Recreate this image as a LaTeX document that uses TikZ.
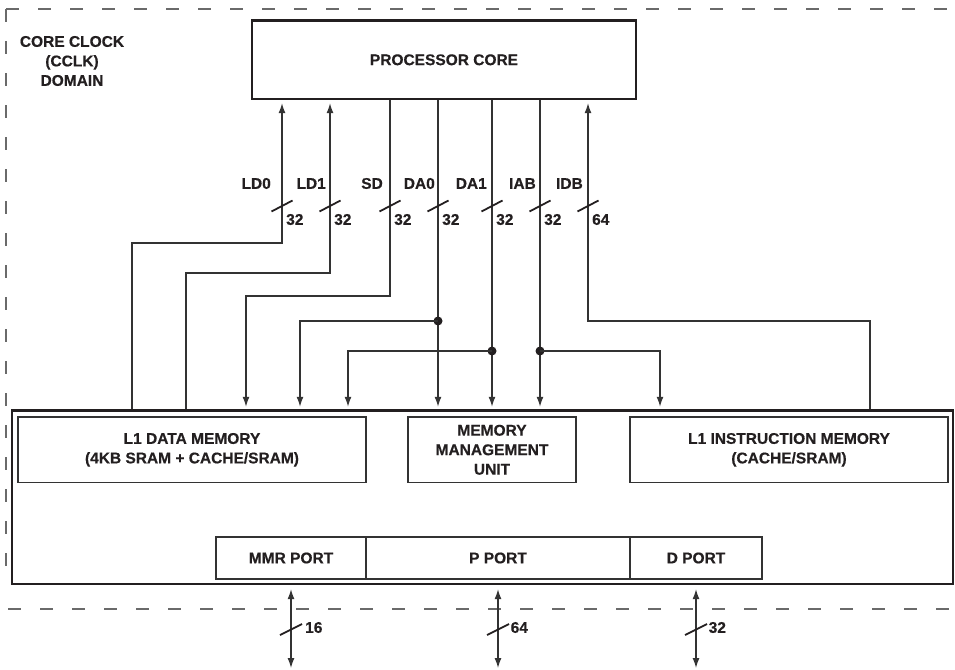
\documentclass[tikz,border=0pt]{standalone}
\usepackage{fontspec}
\setmainfont{Liberation Sans}[BoldFeatures={FakeBold=0.5}]
\usetikzlibrary{arrows.meta}
\definecolor{ink}{HTML}{231F20}
\definecolor{wire}{HTML}{333333}
\definecolor{dashc}{HTML}{6A6A6A}
\begin{document}
\begin{tikzpicture}[x=1pt,y=-1pt,
  font=\fontsize{15.5}{19.5}\selectfont\bfseries, text=ink,
  blk/.style={draw=ink, line width=2.2pt, inner sep=0pt, align=center},
  sub/.style={draw=wire, line width=1.4pt, inner sep=0pt, align=center},
  wirestyle/.style={draw=wire, line width=1.3pt},
  arr/.style={wirestyle, -{Latex[length=10pt,width=7pt]}},
  darr/.style={wirestyle, {Latex[length=10pt,width=7pt]}-{Latex[length=10pt,width=7pt]}},
  tick/.style={draw=ink, line width=1.8pt},
  jdot/.style={circle, fill=ink, inner sep=0pt, minimum size=9pt},
  lbl/.style={inner sep=0pt},
  bound/.style={draw=dashc, line width=1.3pt, dash pattern=on 13pt off 19pt}]

\useasboundingbox (0,0) rectangle (955,669);

% clock domain boundary
\draw[bound] (6,9) -- (955,9);
\draw[bound] (6,9) -- (6,585);
\draw[bound] (8,609) -- (955,609);
\node[lbl, align=center] (dom) at (72,61) {CORE CLOCK\\(CCLK)\\DOMAIN};

% blocks
\node[blk, minimum width=384pt, minimum height=78.5pt] (core) at (444,59.8) {PROCESSOR CORE};
\node[blk, minimum width=941pt, minimum height=173.5pt] (main) at (482.5,497.3) {};
\node[sub, minimum width=348pt, minimum height=65.5pt] (l1d) at (192,449.8) {L1 DATA MEMORY\\(4KB SRAM + CACHE/SRAM)};
\node[sub, minimum width=168pt, minimum height=65.5pt] (mmu) at (492,449.8) {MEMORY\\MANAGEMENT\\UNIT};
\node[sub, minimum width=318pt, minimum height=65.5pt] (l1i) at (789,449.8) {L1 INSTRUCTION MEMORY\\(CACHE/SRAM)};
\node[sub, minimum width=150pt, minimum height=42pt] (mmr) at (291,558) {MMR PORT};
\node[sub, minimum width=264pt, minimum height=42pt] (pp) at (498,558) {P PORT};
\node[sub, minimum width=132pt, minimum height=42pt] (dp) at (696,558) {D PORT};

% bus x positions
\coordinate (xld0) at (282,0);
\coordinate (xld1) at (330,0);
\coordinate (xsd) at (390,0);
\coordinate (xda0) at (438,0);
\coordinate (xda1) at (492,0);
\coordinate (xiab) at (540,0);
\coordinate (xidb) at (588,0);
\coordinate (bld0) at (132,0);
\coordinate (bld1) at (186,0);
\coordinate (bsd) at (246,0);
\coordinate (bda0) at (300,0);
\coordinate (bda1) at (348,0);
\coordinate (biab) at (660,0);
\coordinate (bidb) at (870,0);

% bend points
\coordinate (hld0) at (282,243);
\coordinate (hld1) at (330,273);
\coordinate (hsd) at (246,296);
\coordinate (hidb) at (588,321);

% LD0, LD1 (memory -> core)
\draw[arr, shorten >=3pt] (main.north -| bld0) |- (hld0) -- (core.south -| xld0);
\draw[arr, shorten >=3pt] (main.north -| bld1) |- (hld1) -- (core.south -| xld1);
% SD (core -> memory)
\draw[arr, shorten >=2.7pt] (core.south -| xsd) |- (hsd) -- (main.north -| bsd);
% DA0, DA1, IAB
\draw[arr, shorten >=2.7pt] (core.south -| xda0) -- (main.north -| xda0);
\draw[arr, shorten >=2.7pt] (core.south -| xda1) -- (main.north -| xda1);
\draw[arr, shorten >=2.7pt] (core.south -| xiab) -- (main.north -| xiab);
\node[jdot] (j0) at (438,321) {};
\node[jdot] (j1) at (492,351) {};
\node[jdot] (j2) at (540,351) {};
\draw[arr, shorten >=2.7pt] (j0.center) -| (main.north -| bda0);
\draw[arr, shorten >=2.7pt] (j1.center) -| (main.north -| bda1);
\draw[arr, shorten >=2.7pt] (j2.center) -| (main.north -| biab);
% IDB (memory -> core)
\draw[arr, shorten >=3pt] (main.north -| bidb) |- (hidb) -- (core.south -| xidb);

% bus width ticks and labels (top)
\foreach \x/\nm/\d/\w in {282/LD0/11/32, 330/LD1/4/32, 390/SD/7/32, 438/DA0/3/32, 492/DA1/5/32, 540/IAB/4/32, 588/IDB/5/64}{
  \draw[tick] (\x-10.5,211.5) -- (\x+10.5,200.5);
  \node[lbl, anchor=east] (n\nm) at (\x-\d,183.5) {\nm};
  \node[lbl, anchor=west] (w\nm) at (\x+4,219.5) {\w};
}

% external ports
\coordinate (emmr) at (291,668);
\coordinate (epp) at (498,668);
\coordinate (edp) at (696,668);
\draw[darr, shorten <=4pt] (main.south -| mmr) -- (emmr);
\draw[darr, shorten <=4pt] (main.south -| pp) -- (epp);
\draw[darr, shorten <=4pt] (main.south -| dp) -- (edp);
\foreach \x/\w/\o in {291/16/14, 498/64/12.5, 696/32/12.5}{
  \draw[tick] (\x-11,635) -- (\x+11,624);
  \node[lbl, anchor=west] (b\w) at (\x+\o,627.5) {\w};
}
\end{tikzpicture}
\end{document}
